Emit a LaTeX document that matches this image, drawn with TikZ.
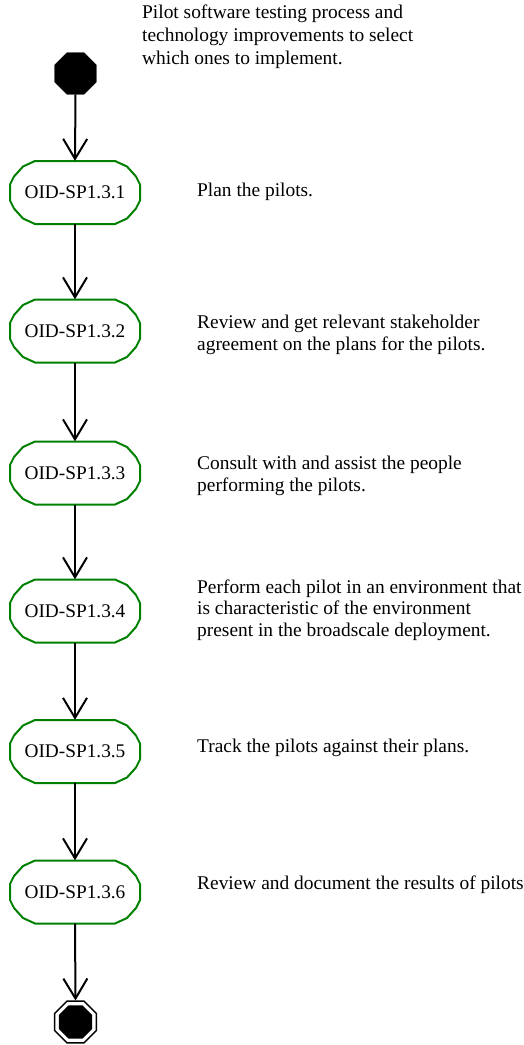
\documentclass[tikz,border=0pt]{standalone}
\usepackage{fontspec}
\setmainfont{Liberation Serif}
\usetikzlibrary{arrows.meta,shapes.geometric}
\definecolor{actgreen}{RGB}{0,128,0}
\tikzset{
  flow/.style={draw=black, line width=2pt, -{Straight Barb[length=20pt,width=24pt,line width=2pt]}},
  actbox/.style={rectangle, draw=none, inner sep=0pt, minimum width=130pt, minimum height=63pt,
                 font=\fontsize{19.3}{22}\selectfont},
  actline/.style={draw=actgreen, line width=2pt, line join=round},
  note/.style={anchor=west, inner sep=0pt, align=left, font=\fontsize{19.4}{21.5}\selectfont},
  startnode/.style={regular polygon, regular polygon sides=8, fill=black, draw=black,
                    inner sep=0pt, minimum size=45pt},
  endouter/.style={regular polygon, regular polygon sides=8, draw=black, line width=1.5pt,
                   inner sep=0pt, minimum size=45pt},
  endinner/.style={regular polygon, regular polygon sides=8, fill=black,
                   inner sep=0pt, minimum size=36pt},
}
\begin{document}
\begin{tikzpicture}[x=1pt, y=-1pt]
  \useasboundingbox (0,0) rectangle (524,1045);

  % initial and final states
  \node[startnode] (s) at (75.5,73.5) {};
  \node[endouter] (e) at (75.5,1022) {};
  \node[endinner] (ei) at (e.center) {};

  % activities
  \node[actbox] (b1) at (75,192.5) {OID-SP1.3.1};
  \node[actbox] (b2) at (75,331)   {OID-SP1.3.2};
  \node[actbox] (b3) at (75,473)   {OID-SP1.3.3};
  \node[actbox] (b4) at (75,611)   {OID-SP1.3.4};
  \node[actbox] (b5) at (75,751.5) {OID-SP1.3.5};
  \node[actbox] (b6) at (75,892)   {OID-SP1.3.6};

  % outlines of the activity boxes
  \foreach \n in {b1,b2,b3,b4,b5,b6} {
    \draw[actline] ([shift={(-40,-31.5)}]\n.center) -- ([shift={(40,-31.5)}]\n.center)
      -- ([shift={(52,-26)}]\n.center) -- ([shift={(61,-16)}]\n.center)
      -- ([shift={(65,-8)}]\n.center) -- ([shift={(65,8)}]\n.center)
      -- ([shift={(61,16)}]\n.center) -- ([shift={(52,26)}]\n.center)
      -- ([shift={(40,31.5)}]\n.center) -- ([shift={(-40,31.5)}]\n.center)
      -- ([shift={(-52,26)}]\n.center) -- ([shift={(-61,16)}]\n.center)
      -- ([shift={(-65,8)}]\n.center) -- ([shift={(-65,-8)}]\n.center)
      -- ([shift={(-61,-16)}]\n.center) -- ([shift={(-52,-26)}]\n.center) -- cycle;
  }

  % transitions
  \draw[flow] (s.south) -- (b1.north);
  \draw[flow] (b1.south) -- (b2.north);
  \draw[flow] (b2.south) -- (b3.north);
  \draw[flow] (b3.south) -- (b4.north);
  \draw[flow] (b4.south) -- (b5.north);
  \draw[flow] (b5.south) -- (b6.north);
  \draw[flow] (b6.south) -- (e.north);

  % descriptions
  \node[note, anchor=north west, font=\fontsize{19.4}{23}\selectfont] (t0) at (142,5)
    {Pilot software testing process and\\technology improvements to select\\which ones to implement.};
  \node[note] (t1) at (197,192) {Plan the pilots.};
  \node[note] (t2) at (197,335) {Review and get relevant stakeholder\\agreement on the plans for the pilots.};
  \node[note] (t3) at (197,476) {Consult with and assist the people\\performing the pilots.};
  \node[note] (t4) at (197,610) {Perform each pilot in an environment that\\is characteristic of the environment\\present in the broadscale deployment.};
  \node[note] (t5) at (197,748) {Track the pilots against their plans.};
  \node[note] (t6) at (197,885) {Review and document the results of pilots};
\end{tikzpicture}
\end{document}
